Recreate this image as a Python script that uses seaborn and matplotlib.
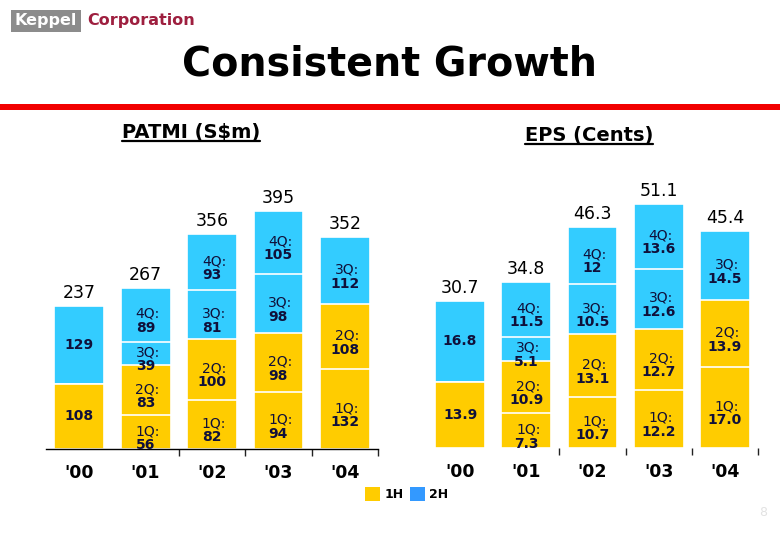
import numpy as np
import pandas as pd
import matplotlib
matplotlib.use("Agg")
import matplotlib.pyplot as plt
from matplotlib.patches import Patch, Rectangle
from matplotlib.lines import Line2D
import seaborn as sns

# Data
years = ["'00", "'01", "'02", "'03", "'04"]
quarters = ["1Q:", "2Q:", "3Q:", "4Q:"]

# PATMI (S$m); '00 only split into halves (1H kept in q1, 2H in q3)
patmi_q1 = [108, 56, 82, 94, 132]
patmi_q2 = [0, 83, 100, 98, 108]
patmi_q3 = [129, 39, 81, 98, 112]
patmi_q4 = [0, 89, 93, 105, 0]

# EPS (cents)
eps_q1 = [13.9, 7.3, 10.7, 12.2, 17.0]
eps_q2 = [0, 10.9, 13.1, 12.7, 13.9]
eps_q3 = [16.8, 5.1, 10.5, 12.6, 14.5]
eps_q4 = [0, 11.5, 12, 13.6, 0]

YELLOW = "#FFCC00"
CYAN = "#33CCFF"
LEGEND_BLUE = "#3399FF"
LABEL_COL = "#10103a"

W, H = 780, 540


def px_rect(x0, y0, x1, y1):
    # pixel box (top-left origin) -> figure fraction rect
    return [x0 / W, 1 - y1 / H, (x1 - x0) / W, (y1 - y0) / H]


def draw_panel(ax, q_lists, total_fmt, ytop, show_base):
    q = np.array(q_lists, dtype=float)
    cum = np.cumsum(q, axis=0)
    colors = [YELLOW, YELLOW, CYAN, CYAN]

    # draw cumulative stacks from the top down so lower layers cover them
    for k in range(3, -1, -1):
        df = pd.DataFrame({"year": years, "value": cum[k]})
        sns.barplot(data=df, x="year", y="value", color=colors[k],
                    saturation=1, width=0.75, errorbar=None,
                    edgecolor="white", linewidth=1.2, ax=ax)

    for i, yr in enumerate(years):
        for k in range(4):
            v = q[k, i]
            if v == 0:
                continue
            mid = cum[k, i] - v / 2
            txt = str(q_lists[k][i])
            if yr == "'00":
                ax.annotate(txt, (i, mid), ha="center", va="center",
                            fontsize=10, fontweight="bold", color=LABEL_COL)
            else:
                ax.annotate(quarters[k], (i, mid), xytext=(2, 1),
                            textcoords="offset pixels", ha="center",
                            va="center", fontsize=10, color=LABEL_COL)
                ax.annotate(txt, (i, mid), xytext=(0, -13),
                            textcoords="offset pixels", ha="center",
                            va="center", fontsize=10, fontweight="bold",
                            color=LABEL_COL)
        ax.annotate(total_fmt.format(cum[3, i]), (i, cum[3, i]),
                    xytext=(0, 4), textcoords="offset pixels",
                    ha="center", va="bottom", fontsize=12.5, color="black")

    ax.set_xlim(-0.5, 4.5)
    ax.set_ylim(0, ytop)
    ax.set_xlabel("")
    ax.set_ylabel("")
    ax.set_yticks([])
    for side in ["left", "right", "top"]:
        ax.spines[side].set_visible(False)
    ax.spines["bottom"].set_visible(show_base)
    ax.spines["bottom"].set_color("black")
    ax.spines["bottom"].set_linewidth(1)
    ax.set_xticks([1.5, 2.5, 3.5, 4.5], minor=True)
    ax.tick_params(axis="x", which="minor", bottom=True, length=5, width=1,
                   color="#222222", direction="out")
    ax.tick_params(axis="x", which="major", bottom=True, length=0, pad=11,
                   labelsize=12.5, labelcolor="black")
    for lbl in ax.get_xticklabels():
        lbl.set_fontweight("bold")


sns.set_style("white")
plt.rcParams["font.family"] = ["DejaVu Sans"]
plt.rcParams["text.color"] = "black"

fig = plt.figure(figsize=(7.8, 5.4), dpi=100)

ax1 = fig.add_axes(px_rect(46, 150, 378, 449))
draw_panel(ax1, [patmi_q1, patmi_q2, patmi_q3, patmi_q4], "{:.0f}",
           299 / 0.603, True)

ax2 = fig.add_axes(px_rect(427, 150, 758, 448))
draw_panel(ax2, [eps_q1, eps_q2, eps_q3, eps_q4], "{:.1f}",
           298 / 4.78, False)

# header: logo, title, red rule
fig.text(15 / W, 1 - 21 / H, "Keppel", color="white", fontsize=11.5,
         fontweight="bold", va="center", ha="left",
         bbox=dict(facecolor="#8c8c8c", edgecolor="none", pad=2.5))
fig.text(87 / W, 1 - 21 / H, "Corporation", color="#9e1f3f", fontsize=11.5,
         fontweight="bold", va="center", ha="left")
fig.text(390 / W, 1 - 64 / H, "Consistent Growth", fontsize=28.5,
         fontweight="bold", ha="center", va="center", color="black")
fig.add_artist(Rectangle((0, 1 - 110 / H), 1, 6 / H,
                         transform=fig.transFigure, color="#f20000", lw=0))

# panel headers (underlined)
h1 = fig.text(191 / W, 1 - 133 / H, "PATMI (S$m)", fontsize=14,
              fontweight="bold", ha="center", va="center", color="black")
h2 = fig.text(589 / W, 1 - 135 / H, "EPS (Cents)", fontsize=14,
              fontweight="bold", ha="center", va="center", color="black")
fig.canvas.draw()
rend = fig.canvas.get_renderer()
for h in (h1, h2):
    bb = h.get_window_extent(rend)
    y = bb.y0 + 1
    fig.add_artist(Line2D([bb.x0 / W, bb.x1 / W], [y / H, y / H],
                          transform=fig.transFigure, color="black", lw=1.6))

# legend
handles = [Patch(facecolor=YELLOW, edgecolor="none"),
           Patch(facecolor=LEGEND_BLUE, edgecolor="none")]
fig.legend(handles, ["1H", "2H"], ncol=2, frameon=False, loc="upper left",
           bbox_to_anchor=(365 / W, 1 - 487 / H), borderpad=0,
           borderaxespad=0, handlelength=1.2, handleheight=1.4,
           handletextpad=0.35, columnspacing=0.5,
           prop={"size": 9, "weight": "bold"})

fig.text(763 / W, 1 - 513 / H, "8", color="#e2e2e2", fontsize=9,
         ha="center", va="center")

fig.savefig("out.png", dpi=100)
